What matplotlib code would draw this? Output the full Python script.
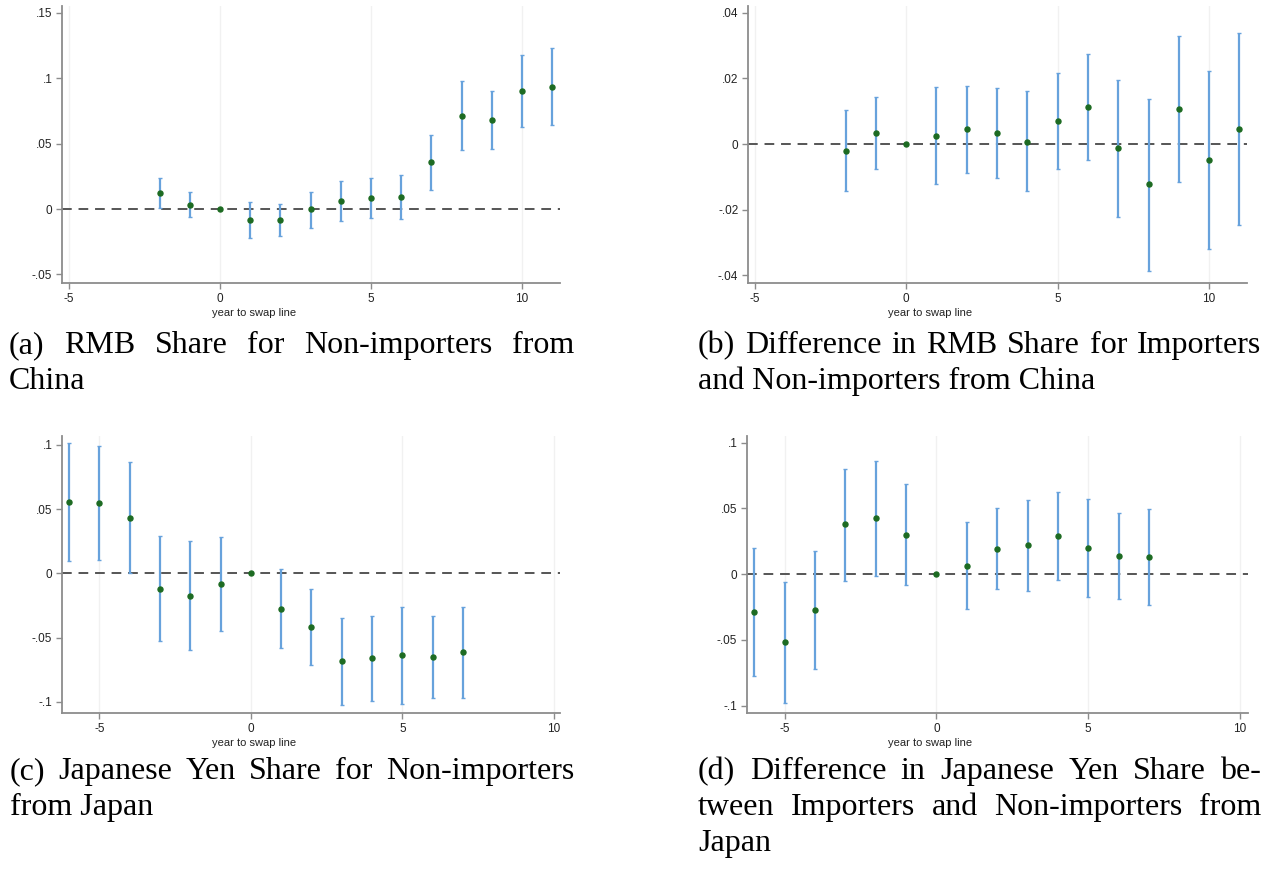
import matplotlib
matplotlib.use("Agg")
import matplotlib.pyplot as plt
import numpy as np

# ---- data (event-study coefficients and 95% CIs) ----
years_cn = [-2, -1, 0, 1, 2, 3, 4, 5, 6, 7, 8, 9, 10, 11]
years_jp = [-6, -5, -4, -3, -2, -1, 0, 1, 2, 3, 4, 5, 6, 7]

coef_a = [0.012, 0.003, 0, -0.0084, -0.0084, 0.0, 0.0063, 0.0082, 0.0089, 0.0356, 0.0712, 0.0677, 0.090, 0.0933]
lo_a = [0.0005, -0.0064, 0, -0.0224, -0.0206, -0.0142, -0.0089, -0.0071, -0.0079, 0.0143, 0.045, 0.0455, 0.0628, 0.0643]
hi_a = [0.0234, 0.0127, 0, 0.0053, 0.0038, 0.0132, 0.0216, 0.0234, 0.026, 0.0567, 0.098, 0.090, 0.1175, 0.1226]

coef_b = [-0.0020, 0.0035, 0, 0.0025, 0.0046, 0.0034, 0.0007, 0.0071, 0.0112, -0.0013, -0.0123, 0.0107, -0.0049, 0.0046]
lo_b = [-0.0142, -0.0076, 0, -0.0122, -0.0088, -0.0103, -0.0143, -0.0076, -0.0049, -0.0223, -0.0387, -0.0117, -0.0319, -0.0247]
hi_b = [0.0104, 0.0144, 0, 0.0173, 0.0177, 0.0170, 0.0162, 0.0218, 0.0274, 0.0194, 0.0138, 0.0330, 0.0223, 0.0340]

coef_c = [0.0555, 0.0548, 0.0433, -0.012, -0.0174, -0.0083, 0, -0.0276, -0.042, -0.0683, -0.0662, -0.0639, -0.0654, -0.0615]
lo_c = [0.0098, 0.0104, 0.0, -0.0525, -0.0598, -0.045, 0, -0.0584, -0.0717, -0.1028, -0.0992, -0.1016, -0.0974, -0.0969]
hi_c = [0.1013, 0.0994, 0.0865, 0.0291, 0.0249, 0.028, 0, 0.0034, -0.0122, -0.0346, -0.0333, -0.0265, -0.0333, -0.026]

coef_d = [-0.0287, -0.0518, -0.0274, 0.0379, 0.0424, 0.0300, 0, 0.0063, 0.019, 0.0219, 0.029, 0.0198, 0.0137, 0.013]
lo_d = [-0.0772, -0.098, -0.0721, -0.0051, -0.0013, -0.0086, 0, -0.0267, -0.0117, -0.0127, -0.0043, -0.0178, -0.0188, -0.0234]
hi_d = [0.0198, -0.0059, 0.0175, 0.0802, 0.0863, 0.0686, 0, 0.0394, 0.0505, 0.0566, 0.0627, 0.0572, 0.0465, 0.0495]

yticks_ab = [[-0.05, 0, 0.05, 0.1, 0.15], [-0.04, -0.02, 0, 0.02, 0.04]]
ylabels_ab = [["-.05", "0", ".05", ".1", ".15"], ["-.04", "-.02", "0", ".02", ".04"]]
yticks_cd = [-0.1, -0.05, 0, 0.05, 0.1]
ylabels_cd = ["-.1", "-.05", "0", ".05", ".1"]
xticks = [-5, 0, 5, 10]
xlabels = ["-5", "0", "5", "10"]

captions = [
    (["(a) RMB Share for Non-importers from"], "China"),
    (["(b) Difference in RMB Share for Importers"], "and Non-importers from China"),
    (["(c) Japanese Yen Share for Non-importers"], "from Japan"),
    (["(d) Difference in Japanese Yen Share be-", "tween Importers and Non-importers from"], "Japan"),
]

W, H = 1270, 871
fig = plt.figure(figsize=(W / 100, H / 100), dpi=100)
plt.rcParams['font.family'] = ['Liberation Sans', 'DejaVu Sans']

ci_color = '#67a2dc'
pt_color = '#1d6b22'
spine_col = '#8c8c8c'


def make_ax(left, top, right, bottom):
    return fig.add_axes([left / W, 1 - bottom / H, (right - left) / W, (bottom - top) / H])


def draw_panel(ax, x, coef, lo, hi, xlim, ylim, yt, ylab, xlab_frac):
    x = np.array(x, float)
    coef = np.array(coef)
    lo = np.array(lo)
    hi = np.array(hi)
    ax.set_xlim(*xlim)
    ax.set_ylim(*ylim)
    for t in xticks:
        ax.axvline(t, color='#f1f1f1', lw=1, zorder=0)
    ax.axhline(0, color='#555555', lw=1.4, ls=(0, (5, 3.5)), zorder=1)
    m = x != 0
    ax.errorbar(x[m], coef[m], yerr=[coef[m] - lo[m], hi[m] - coef[m]], fmt='none',
                ecolor=ci_color, elinewidth=1.6, capsize=1.6, capthick=1.0, zorder=2)
    ax.plot(x, coef, 'o', color=pt_color, ms=3.6, zorder=3)
    for s in ['top', 'right']:
        ax.spines[s].set_visible(False)
    for s in ['left', 'bottom']:
        ax.spines[s].set_color(spine_col)
        ax.spines[s].set_linewidth(1.3)
    ax.set_xticks(xticks)
    ax.set_xticklabels(xlabels)
    ax.set_yticks(yt)
    ax.set_yticklabels(ylab)
    ax.tick_params(colors=spine_col, labelcolor='#222222', labelsize=8.5, length=4, width=1, pad=3)
    ax.set_xlabel('year to swap line', fontsize=8, color='#222222', labelpad=4)
    ax.xaxis.set_label_coords(xlab_frac, -0.09)


ax_a = make_ax(62, 6, 560, 283)
ax_b = make_ax(748, 6, 1247, 283)
ax_c = make_ax(62, 436, 560, 713)
ax_d = make_ax(747, 436, 1248, 713)

draw_panel(ax_a, years_cn, coef_a, lo_a, hi_a, (-5.23, 11.26), (-0.0565, 0.155),
           yticks_ab[0], ylabels_ab[0], 0.386)
draw_panel(ax_b, years_cn, coef_b, lo_b, hi_b, (-5.22, 11.25), (-0.0424, 0.0421),
           yticks_ab[1], ylabels_ab[1], 0.365)
draw_panel(ax_c, years_jp, coef_c, lo_c, hi_c, (-6.23, 10.2), (-0.1088, 0.107),
           yticks_cd, ylabels_cd, 0.386)
draw_panel(ax_d, years_jp, coef_d, lo_d, hi_d, (-6.24, 10.26), (-0.1057, 0.105),
           yticks_cd, ylabels_cd, 0.365)

# ---- captions: justified lines in a serif face ----
renderer = fig.canvas.get_renderer()
cap_kw = dict(family=['Liberation Serif', 'DejaVu Serif'], fontsize=23, color='black', va='baseline')


def justified_line(text, x0, x1, ybase):
    words = text.split()
    objs = [fig.text(0, 1 - ybase / H, w, **cap_kw) for w in words]
    widths = [o.get_window_extent(renderer).width for o in objs]
    gap = (x1 - x0 - sum(widths)) / (len(words) - 1)
    x = x0
    for o, w in zip(objs, widths):
        o.set_x(x / W)
        x += w + gap


def plain_line(text, x0, ybase):
    fig.text(x0 / W, 1 - ybase / H, text, **cap_kw)


line_h = 36
blocks = [(9, 574, 353), (698, 1261, 353), (10, 574, 779), (698, 1261, 779)]
for (just, last), (x0, x1, yb) in zip(captions, blocks):
    for i, ln in enumerate(just):
        justified_line(ln, x0, x1, yb + i * line_h)
    plain_line(last, x0, yb + len(just) * line_h)

fig.savefig('out.png', dpi=100)
